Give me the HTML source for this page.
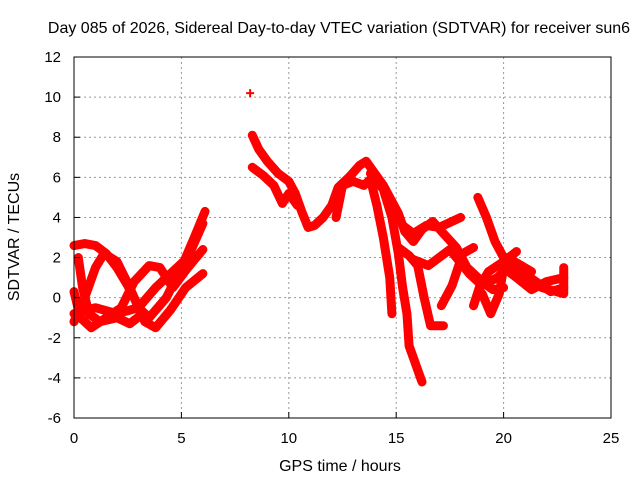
<!DOCTYPE html>
<html><head><meta charset="utf-8"><style>
body{margin:0;background:#fff}
svg{display:block;font-family:"Liberation Sans",sans-serif}
</style></head><body>
<svg id="chart" width="640" height="480" viewBox="0 0 640 480">
<rect width="640" height="480" fill="#fff"/>
<g id="grid"></g>
<g id="series"></g>
<rect x="74" y="57" width="537" height="361" fill="none" stroke="#000" stroke-width="1"/>
<g id="ticks" font-size="15" fill="#000"></g>
<text x="339" y="33" font-size="16" text-anchor="middle">Day 085 of 2026, Sidereal Day-to-day VTEC variation (SDTVAR) for receiver sun6</text>
<text x="340" y="471" font-size="16" text-anchor="middle">GPS time / hours</text>
<text x="19" y="237" font-size="16" text-anchor="middle" transform="rotate(-90 19 237)">SDTVAR / TECUs</text>
</svg>
<script>
const xTicks=[0,5,10,15,20,25];
const yTicks=[-6,-4,-2,0,2,4,6,8,10,12];
const trackA=[[0,2.6],[0.5,2.7],[1,2.6],[1.5,2.2],[2,1.5],[2.5,0.6],[2.8,0],[3.3,-1.2],[3.8,-1.5],[4.5,-0.6],[5.2,0.5],[6,1.2]];
const trackB=[[0,0.3],[0.3,-1],[0.8,-1.5],[1.5,-1],[2.2,-0.5],[2.8,0.8],[3.5,1.6],[4,1.5],[4.6,0.5],[5.3,1.5],[6,2.4]];
const trackC=[[0,-1.2],[0.5,0],[1,1.5],[1.4,2.2],[2,1.8],[2.6,0.5],[3,-0.5],[3.5,-1],[4.3,0],[5,1.5],[5.6,3],[6.1,4.3]];
const trackD=[[0,-0.8],[1,-0.5],[2,-0.8],[3,-0.5],[3.8,0.5],[4.5,1.2],[5.3,2],[6,3.7]];
const trackE=[[0.2,2],[0.4,0.5],[0.7,-0.8],[1.2,-1.2],[2,-1],[2.6,-1.3],[3.2,-0.8]];
const trackF=[[8.2,10.2]];
const trackG=[[8.3,8.1],[8.6,7.4],[9,6.8],[9.5,6.2],[10,5.8],[10.3,5.2],[10.6,4.3],[10.9,3.5],[11.2,3.6],[11.6,4.0],[12,4.6],[12.3,5.5],[12.8,6],[13.3,6.6],[13.6,6.8],[14,6.2],[14.4,5.6],[14.8,4.8],[15.1,4.2],[15.4,3.3],[15.8,2.8],[16.2,3.4],[16.7,3.8],[17.2,3.2],[17.8,2.5],[18.3,1.5],[19,0.8],[19.5,0.4],[20,0.5]];
const trackH=[[8.3,6.5],[8.8,6.1],[9.3,5.6],[9.7,4.7],[10,5.2],[10.4,4.6]];
const trackI=[[12.2,4.0],[12.5,5.6],[13,5.8],[13.5,5.6],[13.8,5.9],[14.1,4.6],[14.4,3.0],[14.7,1.0],[14.8,-0.8]];
const trackJ=[[13.8,6.2],[14.4,5.4],[14.8,4.0],[15.1,2.2],[15.3,0.5],[15.5,-0.8],[15.6,-2.4],[15.9,-3.3],[16.2,-4.2]];
const trackK=[[15.1,2.5],[15.6,2.1],[16.0,1.6],[16.3,0],[16.6,-1.4],[17.2,-1.4]];
const trackL=[[15.3,3.6],[15.8,3.2],[16.4,3.6],[17,3.5],[17.6,3.8],[18,4.0]];
const trackM=[[15.8,1.9],[16.5,1.6],[17.5,2.4],[18.4,1.2],[19,0.6],[19.7,1.0],[20.5,1.8],[21.3,1.3]];
const trackN=[[17.1,-0.4],[17.6,0.6],[18.1,2.2],[18.6,2.5]];
const trackO=[[18.8,5.0],[19.2,4.0],[19.6,2.8],[20,2],[20.7,1.4],[21.5,0.8],[22.2,0.3],[22.8,0.5]];
const trackP=[[18.6,-0.4],[18.9,0.6],[19.3,1.3],[20,1.8],[20.6,2.3]];
const trackQ=[[19.0,0.2],[19.4,-0.8],[19.8,0.2],[20,1.5],[20.6,1.0],[21.3,0.4],[22,0.8],[22.8,1.0]];
const trackR=[[20.2,2.0],[21,1.1],[21.8,0.5],[22.8,0.2],[22.8,1.5]];
const tracks=[trackA,trackB,trackC,trackD,trackE,trackF,trackG,trackH,trackI,trackJ,trackK,trackL,trackM,trackN,trackO,trackP,trackQ,trackR];

const NS="http://www.w3.org/2000/svg";
const X0=74,X1=611,Y0=418,Y1=57;
const xs=h=>X0+(h-0)/(25-0)*(X1-X0);
const ys=v=>Y0-(v-(-6))/(12-(-6))*(Y0-Y1);
const grid=document.getElementById('grid'),ticks=document.getElementById('ticks'),ser=document.getElementById('series');
function mk(tag,attrs,parent){const e=document.createElementNS(NS,tag);for(const k in attrs)e.setAttribute(k,attrs[k]);parent.appendChild(e);return e;}
xTicks.forEach(t=>{
  const x=xs(t);
  if(t>0&&t<25){const l=mk('line',{x1:x,x2:x,y1:Y1,y2:Y0,stroke:'#999','stroke-dasharray':'2,3'},grid);
  
  }
  const tk=mk('line',{x1:x,x2:x,y1:Y0,y2:Y0-6,stroke:'#000'},ticks);
  
  
  const tx=mk('text',{x:x,y:443,'text-anchor':'middle'},ticks);tx.textContent=t;
  
  
});
yTicks.forEach(t=>{
  const y=ys(t);
  if(t>-6&&t<12){const l=mk('line',{x1:X0,x2:X1,y1:y,y2:y,stroke:'#999','stroke-dasharray':'2,3'},grid);
  
  }
  const tk=mk('line',{x1:X0,x2:X0+6,y1:y,y2:y,stroke:'#000'},ticks);
  
  
  const tx=mk('text',{x:61,y:y+5,'text-anchor':'end'},ticks);tx.textContent=t;
  
  
});
tracks.forEach(tr=>{
  if(tr.length>1){
    const pl=mk('polyline',{points:tr.map(p=>xs(p[0])+','+ys(p[1])).join(' '),fill:'none',stroke:'#f00','stroke-width':9,'stroke-linejoin':'round','stroke-linecap':'round'},ser);
    
    
  }
  tr.forEach(p=>{
    const x=xs(p[0]),y=ys(p[1]);
    const m=mk('path',{d:`M${x-4} ${y}H${x+4}M${x} ${y-4}V${y+4}`,stroke:'#f00','stroke-width':2},ser);
    
    
  });
});
</script>
</body></html>
